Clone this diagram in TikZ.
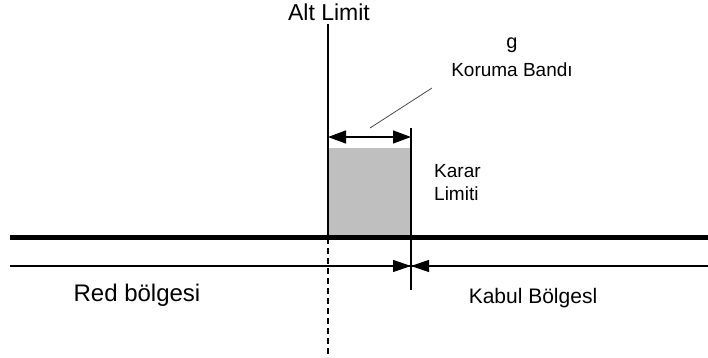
\documentclass[tikz,border=0pt]{standalone}
\usepackage{fontspec}
\setmainfont{Liberation Sans}
\usetikzlibrary{arrows.meta}

\begin{document}
\begin{tikzpicture}[x=1pt,y=1pt,
  lbl/.style={inner sep=0pt,font=\fontsize{#1}{#1}\selectfont},
  tip/.style={-{Triangle[length=18pt,width=12pt]}}]
\useasboundingbox (0,0) rectangle (708,358);
% Puntos
\coordinate (altBot) at (328,120);
\coordinate (dashBot) at (328,3);
\coordinate (karTop) at (411,230);
\coordinate (karBot) at (411,68);
\coordinate (thickL) at (10,120);
\coordinate (thickR) at (708,120);
\coordinate (thinL) at (10,92);
\coordinate (thinR) at (708,92);
\coordinate (thinM) at (411,92);
\coordinate (bandL) at (328,221);
\coordinate (bandR) at (411,221);
\coordinate (leadA) at (370,230);
\coordinate (leadB) at (432,270);
% Textos
\node[lbl=23] (alt) at (329,346) {Alt Limit};
\node[lbl=20] (g) at (512,313) {g};
\node[lbl=19] (kor) at (512,288) {Koruma Bandı};
\node[lbl=19,anchor=west,align=left] (kar) at (434,175) {Karar\\[4pt]Limiti};
\node[lbl=24] (red) at (137,63) {Red bölgesi};
\node[lbl=21] (kab) at (533,60) {Kabul Bölgesl};
% Banda gris
\fill[black!25] (328,120) rectangle (411,210);
% Limites
\draw[line width=1.5pt] ([yshift=-3pt]alt.south -| altBot) -- (altBot);
\draw[line width=1.2pt,dashed,dash pattern=on 6pt off 4pt] (altBot) -- (dashBot);
\draw[line width=1.2pt] (karTop) -- (karBot);
% Ejes
\draw[line width=5pt] (thickL) -- (thickR);
\draw[line width=1.2pt] (thinL) -- (thinR);
\draw[line width=1.2pt,tip] (thinL) -- (thinM);
\draw[line width=1.2pt,tip] (thinR) -- (thinM);
% Banda
\draw[line width=1.2pt,{Triangle[length=18pt,width=13pt]}-{Triangle[length=18pt,width=13pt]}] (bandL) -- (bandR);
\draw[line width=0.8pt,black!70] (leadA) -- (leadB);
\end{tikzpicture}
\end{document}
